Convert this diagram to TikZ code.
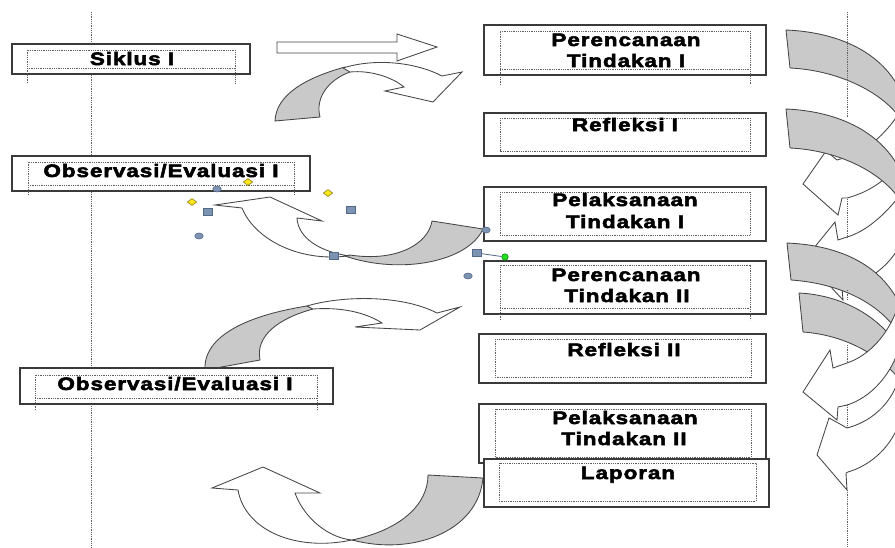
\documentclass[tikz,border=0pt]{standalone}
\usepackage{fontspec}
\usetikzlibrary{shapes.geometric}
\newfontfamily\labelfont[FakeStretch=1.25,FakeBold=3,LetterSpace=5]{Liberation Sans}

\definecolor{boxline}{HTML}{3A3A3A}
\definecolor{dotgray}{HTML}{5E5E5E}
\definecolor{backgray}{HTML}{C9C9C9}
\definecolor{arrowline}{HTML}{454545}
\definecolor{handlefill}{HTML}{7D93B2}
\definecolor{handleline}{HTML}{54698A}
\definecolor{knobyellow}{HTML}{FFE81A}
\definecolor{knobedge}{HTML}{8A7A10}
\definecolor{knobgreen}{HTML}{22DD22}

\begin{document}
\begin{tikzpicture}[x=1pt,y=-1pt,
  box/.style={draw=boxline,line width=1.4pt,fill=white},
  frame/.style={draw=dotgray,line width=0.7pt,dash pattern=on 0.9pt off 0.9pt},
  guide/.style={draw=dotgray,line width=0.8pt,dash pattern=on 0.9pt off 0.9pt},
  lbl/.style={font=\labelfont\bfseries\fontsize{18}{21}\selectfont,anchor=base,inner sep=0pt},
  back/.style={fill=backgray,draw=arrowline,line width=0.85pt,line join=round},
  front/.style={fill=white,draw=arrowline,line width=0.85pt,line join=miter},
  sqhandle/.style={rectangle,minimum width=9pt,minimum height=6.5pt,inner sep=0pt,fill=handlefill,draw=handleline,line width=0.6pt},
  rdhandle/.style={ellipse,minimum width=8.5pt,minimum height=6pt,inner sep=0pt,fill=handlefill,draw=handleline,line width=0.6pt},
  dmhandle/.style={diamond,minimum width=9.5pt,minimum height=7pt,inner sep=0pt,fill=knobyellow,draw=knobedge,line width=0.6pt},
  rothandle/.style={circle,minimum size=6.5pt,inner sep=0pt,fill=knobgreen,draw=green!50!black,line width=0.5pt}]

\useasboundingbox (0,0) rectangle (895,547);
\clip (0,0) rectangle (895,547);

% left guide line
\draw[guide] (91,12) -- (91,547);

% ---- curved arrows, left column ----
% straight arrow at the top
\draw[front] (277,42) -- (397,42) -- (397,34) -- (437,47) -- (397,61) -- (397,53) -- (277,53) -- cycle;

% arrow sweeping right, upper
\draw[back] (275,121) .. controls (276,95) and (305,78) .. (345,67) -- (350,72) .. controls (328,80) and (315,98) .. (320,117) -- cycle;
\draw[front] (343,68) .. controls (375,58) and (415,62) .. (442,76) -- (462,72) -- (433,102) -- (385,91) -- (404,87) .. controls (392,77) and (370,70) .. (350,72) -- cycle;

% arrow sweeping back to the left, middle
\draw[back] (483,229) .. controls (468,262) and (400,275) .. (345,256) -- (350,255) .. controls (395,262) and (428,245) .. (432,221) -- cycle;
\draw[front] (347,256) .. controls (300,262) and (255,240) .. (242,208) -- (215,205) -- (270,197) -- (322,221) -- (297,218) .. controls (298,238) and (320,252) .. (350,256) -- cycle;

% arrow sweeping right, lower
\draw[back] (205,370) .. controls (203,335) and (250,315) .. (307,306) -- (313,309) .. controls (280,318) and (255,335) .. (260,360) -- cycle;
\draw[front] (307,306) .. controls (340,296) and (400,294) .. (437,313) -- (460,307) -- (420,330) -- (355,327) -- (382,323) .. controls (365,312) and (340,307) .. (313,309) -- cycle;

% arrow from the report box
\draw[back] (483,478) .. controls (478,532) and (412,556) .. (352,540) .. controls (400,530) and (428,505) .. (428,475) -- cycle;
\draw[front] (352,540) .. controls (295,552) and (245,530) .. (238,490) -- (212,488) -- (263,467) -- (320,493) -- (295,493) .. controls (305,520) and (330,538) .. (352,540) -- cycle;

% ---- curved arrows, right column ----
\draw[back] (786,30) .. controls (835,32) and (880,50) .. (900,90) -- (900,118) .. controls (880,90) and (835,70) .. (790,68) -- cycle;
\draw[front] (900,112) .. controls (885,135) and (865,152) .. (847,157) -- (837,160) -- (826,151) -- (803,184) -- (838,215) -- (842,198) -- (847,198) .. controls (870,192) and (890,178) .. (900,160) -- cycle;

\draw[back] (786,109) .. controls (835,111) and (880,130) .. (900,170) -- (900,200) .. controls (880,170) and (835,150) .. (790,148) -- cycle;
\draw[front] (900,195) .. controls (885,215) and (865,232) .. (847,237) -- (838,240) -- (835,222) -- (805,259) -- (843,300) -- (842,288) -- (847,288) .. controls (870,280) and (890,265) .. (900,245) -- cycle;

\draw[back] (787,243) .. controls (835,245) and (880,262) .. (900,305) -- (900,335) .. controls (878,300) and (835,283) .. (791,280) -- cycle;
\draw[back] (799,293) .. controls (840,295) and (880,315) .. (900,350) -- (900,380) .. controls (880,355) and (845,335) .. (803,332) -- cycle;
\draw[front] (900,300) .. controls (890,335) and (868,356) .. (847,363) -- (833,368) -- (830,350) -- (803,392) -- (837,420) -- (838,407) -- (847,405) .. controls (870,398) and (892,375) .. (900,345) -- cycle;
\draw[front] (900,375) .. controls (892,405) and (870,422) .. (847,428) -- (840,424) -- (829,418) -- (817,455) -- (847,490) -- (846,473) -- (848,472) .. controls (872,465) and (893,445) .. (900,420) -- cycle;

% right guide line, visible pieces
\draw[guide] (847,12) -- (847,117);
\draw[guide] (847,199) -- (847,237);
\draw[guide] (847,290) -- (847,300);
\draw[guide] (847,345) -- (847,363);
\draw[guide] (847,405) -- (847,428);
\draw[guide] (847,490) -- (847,547);

% ---- boxes ----
\draw[box] (12,44) rectangle (250,74);
\draw[frame] (27,83) -- (27,50) -- (235,50) -- (235,83);
\draw[frame] (27,68) -- (235,68);
\node[lbl] (siklus) at (132,65) {Siklus I};

\draw[box] (484,25) rectangle (766,75);
\draw[frame] (500,85) -- (500,31) -- (750,31) -- (750,85);
\draw[frame] (500,69) -- (750,69);
\node[lbl] (renA1) at (626,46) {Perencanaan};
\node[lbl] (renA2) at (626,67) {Tindakan I};

\draw[box] (484,113) rectangle (766,156);
\draw[frame] (500,118) rectangle (750,151);
\node[lbl] (refA) at (625,131) {Refleksi I};

\draw[box] (12,156) rectangle (310,191);
\draw[frame] (28,195) -- (28,162) -- (294,162) -- (294,195);
\draw[frame] (28,185) -- (294,185);
\node[lbl] (obsA) at (161,177) {Observasi/Evaluasi I};

\draw[box] (484,187) rectangle (766,241);
\draw[frame] (500,192) rectangle (750,235);
\node[lbl] (lakA1) at (625,206) {Pelaksanaan};
\node[lbl] (lakA2) at (625,228) {Tindakan I};

\draw[box] (484,261) rectangle (766,314);
\draw[frame] (500,320) -- (500,265) -- (750,265) -- (750,320);
\draw[frame] (500,308) -- (750,308);
\node[lbl] (renB1) at (626,281) {Perencanaan};
\node[lbl] (renB2) at (627,302) {Tindakan II};

\draw[box] (479,334) rectangle (766,383);
\draw[frame] (495,339) rectangle (751,377);
\node[lbl] (refB) at (624,356) {Refleksi II};

\draw[box] (20,368) rectangle (333,404);
\draw[frame] (35,410) -- (35,375) -- (317,375) -- (317,410);
\draw[frame] (35,398) -- (317,398);
\node[lbl] (obsB) at (175,390) {Observasi/Evaluasi I};

\draw[box] (479,404) rectangle (766,463);
\draw[frame] (495,409) rectangle (751,457);
\node[lbl] (lakB1) at (625,424) {Pelaksanaan};
\node[lbl] (lakB2) at (624,445) {Tindakan II};

\draw[box] (484,459) rectangle (769,507);
\draw[frame] (499,463) rectangle (756,501);
\node[lbl] (lapor) at (628,479) {Laporan};

% ---- selection handles ----
\node[sqhandle] (hs1) at (208,212) {};
\node[sqhandle] (hs2) at (351,210) {};
\node[sqhandle] (hs3) at (334,256) {};
\node[rothandle] (hrot) at (505,257) {};
\draw[handleline,line width=0.8pt] (477,253) -- (hrot);
\node[sqhandle] (hs4) at (477,253) {};
\node[rdhandle] (hc1) at (217,189) {};
\node[rdhandle] (hc2) at (199,236) {};
\node[rdhandle] (hc3) at (486,230) {};
\node[rdhandle] (hc4) at (468,276) {};
\node[dmhandle] (hd1) at (192,202) {};
\node[dmhandle] (hd2) at (248,182) {};
\node[dmhandle] (hd3) at (328,193) {};
\end{tikzpicture}
\end{document}
